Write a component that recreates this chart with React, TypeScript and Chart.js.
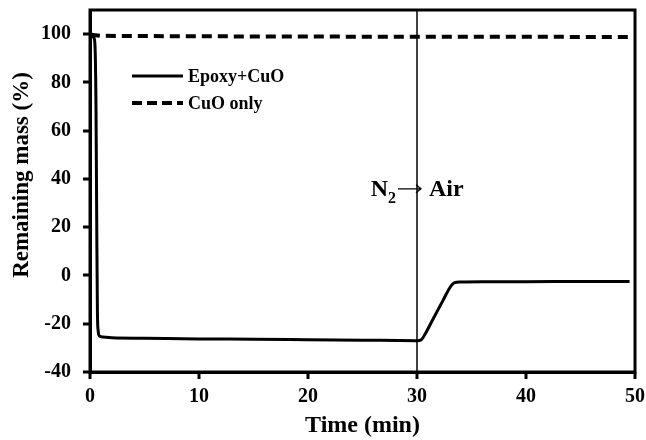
import { useEffect, useRef } from "react";
import { Chart, registerables } from "chart.js";

Chart.register(...registerables);

const epoxyTime = [0.05, 0.2, 0.35, 0.45, 0.55, 0.62, 0.68, 0.75, 0.85, 1.2, 2, 5, 10, 15, 20, 25, 30, 30.4, 30.8, 31.5, 32.4, 33, 33.4, 34, 36, 40, 45, 49.5];
const epoxyMass = [100, 99.6, 98.5, 96, 70, 20, -15, -23, -25, -25.5, -25.8, -26, -26.3, -26.4, -26.6, -26.8, -27, -26.6, -23.8, -17.8, -10.2, -5.2, -3.1, -2.7, -2.6, -2.6, -2.5, -2.5];
const cuoTime = [0, 0.3, 1, 5, 10, 20, 30, 40, 49.7];
const cuoMass = [100, 99.6, 99.3, 99.2, 99.1, 99.0, 98.9, 98.9, 98.8];
const switchTime = 30;
const switchSpan = [-40, 110];
const xTicks = [0, 10, 20, 30, 40, 50];
const yTicks = [-40, -20, 0, 20, 40, 60, 80, 100];
const seriesNames = ["Epoxy+CuO", "CuO only"];
const xTitle = "Time (min)";
const yTitle = "Remaining mass (%)";
const annotationY = 33;

const FONT = "'Liberation Serif', 'Times New Roman', serif";

export default function App() {
  const ref = useRef<HTMLCanvasElement | null>(null);

  useEffect(() => {
    document.body.style.margin = "0";
    const canvas = ref.current;
    if (!canvas) return;

    const framePlugin = {
      id: "frameAndNotes",
      afterDraw(chart: any) {
        const { ctx, chartArea, scales } = chart;
        ctx.save();
        ctx.strokeStyle = "#000";
        ctx.fillStyle = "#000";
        ctx.setLineDash([]);

        // tick marks (outward)
        yTicks.forEach((v) => {
          const y = Math.round(scales.y.getPixelForValue(v));
          ctx.fillRect(chartArea.left - 7, y - 1.5, 7, 3);
        });
        xTicks.forEach((v) => {
          const x = Math.round(scales.x.getPixelForValue(v));
          ctx.fillRect(x - 1.5, chartArea.bottom, 3, 7);
        });

        // frame
        ctx.lineWidth = 3;
        ctx.strokeRect(chartArea.left, chartArea.top, chartArea.right - chartArea.left, chartArea.bottom - chartArea.top);

        // y title
        ctx.save();
        ctx.translate(22, chartArea.top + (chartArea.bottom - chartArea.top) / 2 - 16);
        ctx.rotate(-Math.PI / 2);
        ctx.font = `bold 23px ${FONT}`;
        ctx.textAlign = "center";
        ctx.textBaseline = "middle";
        ctx.fillText(yTitle, 0, 0);
        ctx.restore();

        // legend
        const lx0 = chartArea.left + 42;
        const lx1 = chartArea.left + 93;
        const rows = [chartArea.top + 66, chartArea.top + 93];
        ctx.font = `bold 18px ${FONT}`;
        ctx.textBaseline = "middle";
        ctx.textAlign = "left";
        rows.forEach((y, i) => {
          ctx.beginPath();
          ctx.lineWidth = i === 0 ? 3 : 4;
          ctx.setLineDash(i === 0 ? [] : [10, 5]);
          ctx.moveTo(lx0, y);
          ctx.lineTo(lx1, y);
          ctx.stroke();
          ctx.setLineDash([]);
          ctx.fillText(seriesNames[i], lx1 + 5, y + 1);
        });

        // annotation: N2 -> Air
        const cx = scales.x.getPixelForValue(switchTime);
        const cy = scales.y.getPixelForValue(annotationY);
        ctx.textBaseline = "alphabetic";
        const ax0 = cx - 19;
        const ax1 = cx + 4;
        const ay = cy - 7;
        ctx.lineWidth = 1.3;
        ctx.beginPath();
        ctx.moveTo(ax0, ay);
        ctx.lineTo(ax1, ay);
        ctx.moveTo(ax1 - 5, ay - 4);
        ctx.lineTo(ax1, ay);
        ctx.lineTo(ax1 - 5, ay + 4);
        ctx.stroke();
        ctx.font = `bold 16px ${FONT}`;
        ctx.textAlign = "right";
        ctx.fillText("2", ax0 - 2, cy + 7);
        const sw = ctx.measureText("2").width;
        ctx.font = `bold 24px ${FONT}`;
        ctx.fillText("N", ax0 - 2 - sw, cy);
        ctx.textAlign = "left";
        ctx.fillText("Air", ax1 + 8, cy);
        ctx.restore();
      },
    };

    const chart = new Chart(canvas, {
      type: "line",
      data: {
        datasets: [
          {
            label: "switch",
            data: switchSpan.map((y) => ({ x: switchTime, y })),
            borderColor: "#000",
            borderWidth: 1.5,
            pointRadius: 0,
            tension: 0,
          },
          {
            label: seriesNames[0],
            data: epoxyTime.map((x, i) => ({ x, y: epoxyMass[i] })),
            borderColor: "#000",
            borderWidth: 3,
            pointRadius: 0,
            cubicInterpolationMode: "monotone",
            borderJoinStyle: "round",
          },
          {
            label: seriesNames[1],
            data: cuoTime.map((x, i) => ({ x, y: cuoMass[i] })),
            borderColor: "#000",
            borderWidth: 4,
            borderDash: [10, 6],
            pointRadius: 0,
            tension: 0,
          },
        ],
      },
      options: {
        animation: false,
        responsive: true,
        maintainAspectRatio: false,
        layout: { padding: { top: 10, right: 11, left: 0, bottom: 0 } },
        plugins: {
          legend: { display: false },
          tooltip: { enabled: false },
        },
        scales: {
          x: {
            type: "linear",
            min: 0,
            max: 50,
            afterBuildTicks: (s: any) => {
              s.ticks = xTicks.map((v) => ({ value: v }));
            },
            afterFit: (s: any) => {
              s.height = 68;
              s.paddingLeft = 0;
              s.paddingRight = 0;
            },
            grid: { display: true, drawOnChartArea: false, drawTicks: true, tickLength: 6, color: "rgba(0,0,0,0)", lineWidth: 2 },
            border: { display: true, width: 3, color: "#000" },
            ticks: { color: "#000", font: { family: FONT, size: 20, weight: "bold" }, padding: 7, maxRotation: 0 },
            title: { display: true, text: xTitle, color: "#000", font: { family: FONT, size: 24, weight: "bold" }, padding: { top: 2, bottom: 0 } },
          },
          y: {
            type: "linear",
            min: -40,
            max: 110,
            afterBuildTicks: (s: any) => {
              s.ticks = yTicks.map((v) => ({ value: v }));
            },
            afterFit: (s: any) => {
              s.width = 90;
              s.paddingTop = 0;
              s.paddingBottom = 0;
            },
            grid: { display: true, drawOnChartArea: false, drawTicks: true, tickLength: 6, color: "rgba(0,0,0,0)", lineWidth: 2 },
            border: { display: true, width: 3, color: "#000" },
            ticks: { color: "#000", font: { family: FONT, size: 20, weight: "bold" }, padding: 13 },
            title: { display: false },
          },
        },
      },
      plugins: [framePlugin],
    } as any);

    return () => chart.destroy();
  }, []);

  return (
    <div style={{ width: 646, height: 440, position: "relative" }}>
      <canvas ref={ref} />
    </div>
  );
}
